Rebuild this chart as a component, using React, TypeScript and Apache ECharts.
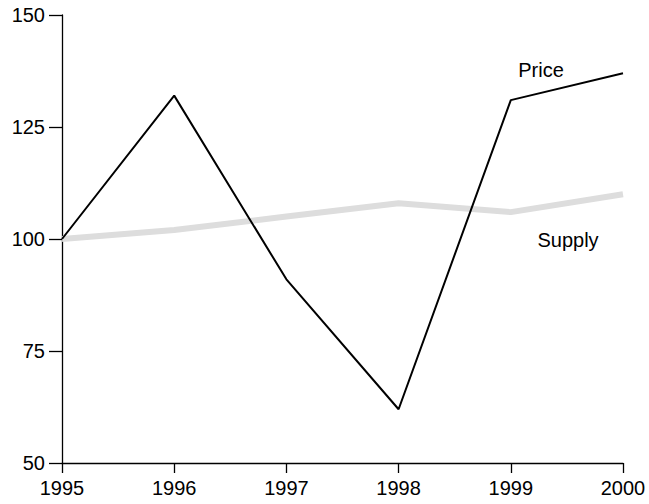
import React, { useEffect, useRef } from "react";
import * as echarts from "echarts";

const years = ["1995", "1996", "1997", "1998", "1999", "2000"];
const price = [100, 132, 91, 62, 131, 137];
const supply = [100, 102, 105, 108, 106, 110];
const yTicks = [50, 75, 100, 125, 150];

export default function App() {
  const ref = useRef<HTMLDivElement>(null);
  useEffect(() => {
    const chart = echarts.init(ref.current!, null, { renderer: "svg" });
    const font = "Liberation Sans, Arial, sans-serif";
    chart.setOption({
      animation: false,
      grid: { left: 62, right: 26, top: 15, bottom: 41 },
      xAxis: {
        type: "category",
        data: years,
        boundaryGap: false,
        axisLine: { lineStyle: { color: "#000", width: 1.3 } },
        axisTick: { inside: false, length: 10, lineStyle: { color: "#000", width: 1.3 } },
        axisLabel: { color: "#000", fontSize: 20, fontFamily: font, margin: 15 },
        splitLine: { show: false },
      },
      yAxis: {
        type: "value",
        min: yTicks[0],
        max: yTicks[yTicks.length - 1],
        interval: 25,
        axisLine: { show: true, lineStyle: { color: "#000", width: 1.3 } },
        axisTick: { show: true, length: 13, lineStyle: { color: "#000", width: 1.3 } },
        axisLabel: { color: "#000", fontSize: 20, fontFamily: font, margin: 17 },
        splitLine: { show: false },
      },
      series: [
        {
          name: "Supply",
          type: "line",
          data: supply,
          symbol: "none",
          lineStyle: { color: "#dddddd", width: 6 },
          z: 1,
        },
        {
          name: "Price",
          type: "line",
          data: price,
          symbol: "none",
          lineStyle: { color: "#000", width: 2 },
          z: 2,
        },
      ],
      graphic: [
        {
          type: "text",
          x: 541,
          y: 70,
          style: { text: "Price", fill: "#000", fontSize: 20, fontFamily: font, align: "center", verticalAlign: "middle" },
        },
        {
          type: "text",
          x: 568,
          y: 240,
          style: { text: "Supply", fill: "#000", fontSize: 20, fontFamily: font, align: "center", verticalAlign: "middle" },
        },
      ],
    });
    return () => chart.dispose();
  }, []);
  return <div ref={ref} style={{ width: 649, height: 504, position: "absolute", left: 0, top: 0 }} />;
}
